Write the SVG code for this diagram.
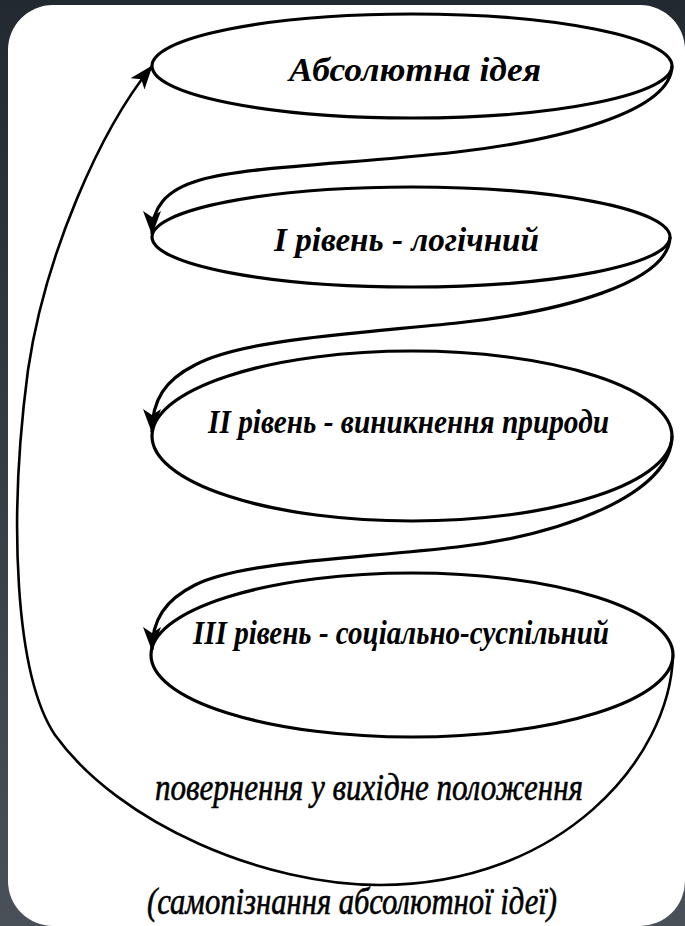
<svg xmlns="http://www.w3.org/2000/svg" width="685" height="926" viewBox="0 0 685 926">
<defs>
<linearGradient id="bg" x1="0" y1="0" x2="0" y2="1">
<stop offset="0" stop-color="#232930"/>
<stop offset="1" stop-color="#4a5058"/>
</linearGradient>
<marker id="arr" markerUnits="userSpaceOnUse" viewBox="0 0 24 18" refX="23" refY="9" markerWidth="24" markerHeight="18" orient="auto">
<path d="M0,0 L24,9 L0,18 L6,9 Z" fill="#000"/>
</marker>
<style>
.node ellipse{fill:none;stroke:#000;stroke-width:3.2}
.conn path{fill:none;stroke:#000;stroke-width:3.2;marker-end:url(#arr)}
.conn path.thin{stroke-width:2.6}
.t{font-family:"Liberation Serif","Times New Roman",serif;font-style:italic;font-weight:bold;font-size:34px;fill:#000}
.t2{font-weight:normal;font-size:38px;stroke:#000;stroke-width:0.6}
</style>
</defs>
<rect x="0" y="0" width="685" height="926" fill="url(#bg)"/>
<rect x="8" y="5" width="677" height="921" rx="45" ry="45" fill="#fff"/>
<g class="conn" id="connectors">
<path d="M672,66 C671,112 560,140 457,152 C350,164 250,166 200,180 C165,190 152,208 152,234"/>
<path d="M670,237 C669,283 560,312 457,323 C350,334 240,340 195,365 C165,380 152,400 152,432"/>
<path d="M672,436 C671,495 560,535 457,547 C350,559 240,562 195,585 C165,600 152,620 152,650"/>
<path class="thin" d="M673,655 C670,760 560,885 380,885 C265,885 120,825 55,735 C15,675 8,520 28,370 C45,255 100,130 152,66"/>
</g>
<g class="node" id="absolute-idea">
<ellipse cx="412" cy="66" rx="260" ry="52"/>
<text class="t" x="289" y="81" textLength="252" lengthAdjust="spacingAndGlyphs">Абсолютна ідея</text>
</g>
<g class="node" id="level-1">
<ellipse cx="411" cy="237" rx="259" ry="50"/>
<text class="t" x="274" y="251" textLength="265" lengthAdjust="spacingAndGlyphs">І рівень - логічний</text>
</g>
<g class="node" id="level-2">
<ellipse cx="412" cy="436" rx="260" ry="85"/>
<text class="t" x="208" y="433" textLength="401" lengthAdjust="spacingAndGlyphs">ІІ рівень - виникнення природи</text>
</g>
<g class="node" id="level-3">
<ellipse cx="412" cy="655" rx="261" ry="82"/>
<text class="t" x="193" y="644" textLength="416" lengthAdjust="spacingAndGlyphs">ІІІ рівень - соціально-суспільний</text>
</g>
<g id="return-label">
<text class="t t2" x="155" y="800" textLength="428" lengthAdjust="spacingAndGlyphs">повернення у вихідне положення</text>
<text class="t t2" x="147" y="914" textLength="410" lengthAdjust="spacingAndGlyphs">(самопізнання абсолютної ідеї)</text>
</g>
</svg>
